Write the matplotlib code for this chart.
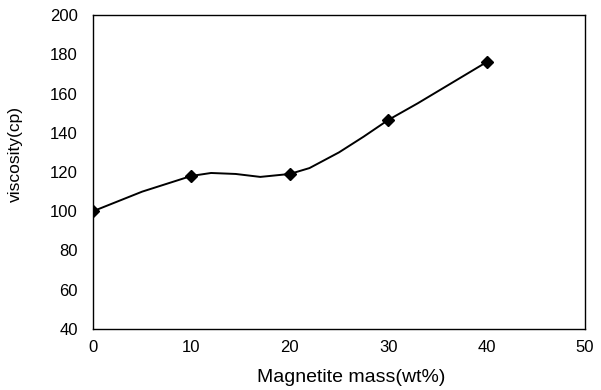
import matplotlib.pyplot as plt

# measured points
mass = [0, 10, 20, 30, 40]
viscosity = [100, 118, 119, 146.5, 176]

# hand-drawn smooth curve
curve_x = [0, 2, 5, 7.5, 10, 12, 14.5, 17, 20, 22, 25, 27.5, 30, 33, 36, 40]
curve_y = [100, 104, 110, 114, 118, 119.5, 119, 117.5, 119, 122, 130, 138, 146.5, 155, 164, 176]

plt.rcParams['font.family'] = ['Liberation Sans', 'DejaVu Sans']

fig = plt.figure(figsize=(6.01, 3.9), dpi=100)
ax = fig.add_axes([93 / 601, 1 - 329 / 390, (585 - 93) / 601, (329 - 15) / 390])

ax.plot(curve_x, curve_y, color='black', lw=1.4)
ax.plot(mass, viscosity, linestyle='none', marker='D', ms=6, color='black')

ax.set_xlim(0, 50)
ax.set_ylim(40, 200)
ax.set_xticks(range(0, 51, 10))
ax.set_yticks(range(40, 201, 20))
ax.tick_params(length=0, labelsize=12, color='#222222')
ax.tick_params(axis='x', pad=8)
ax.tick_params(axis='y', pad=11)
for s in ax.spines.values():
    s.set_linewidth(1.0)

ax.set_xlabel("Magnetite mass(wt%)", fontsize=14)
ax.set_ylabel("viscosity(cp)", fontsize=12.5)
ax.xaxis.set_label_coords(0.524, -0.128)
ax.yaxis.set_label_coords(-0.142, 0.557)

fig.savefig("out.png", dpi=100)
